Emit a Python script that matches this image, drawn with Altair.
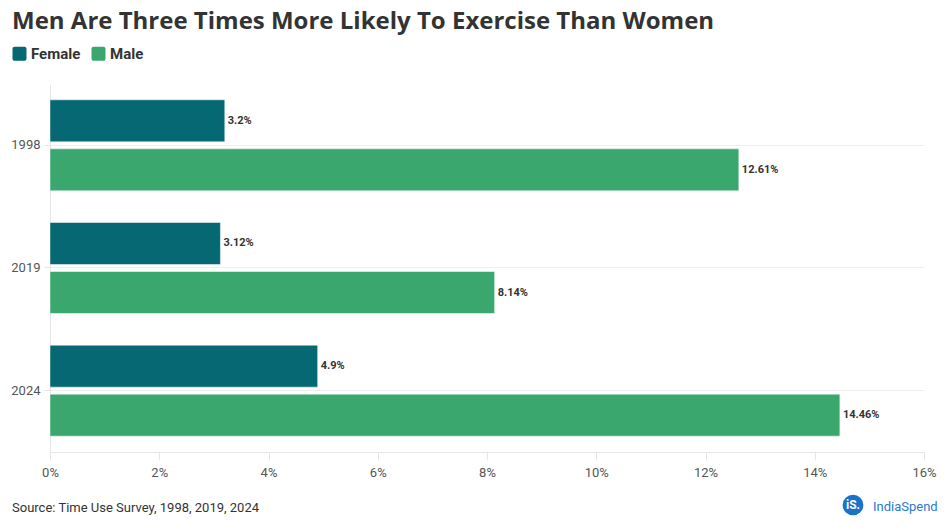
import altair as alt
import pandas as pd

years = ["1998", "1998", "2019", "2019", "2024", "2024"]
sexes = ["Female", "Male", "Female", "Male", "Female", "Male"]
values = [3.2, 12.61, 3.12, 8.14, 4.9, 14.46]
labels = ["3.2%", "12.61%", "3.12%", "8.14%", "4.9%", "14.46%"]
x_ticks = [0, 2, 4, 6, 8, 10, 12, 14, 16]

title_text = "Men Are Three Times More Likely To Exercise Than Women"
source_text = "Source: Time Use Survey, 1998, 2019, 2024"

df = pd.DataFrame({"year": years, "sex": sexes, "value": values, "label": labels})

FONT = "Roboto"
colors = ["#056873", "#3aa86e"]
rounded = ("M -0.7 -1 H 0.7 A 0.3 0.3 0 0 1 1 -0.7 V 0.7 A 0.3 0.3 0 0 1 0.7 1 "
           "H -0.7 A 0.3 0.3 0 0 1 -1 0.7 V -0.7 A 0.3 0.3 0 0 1 -0.7 -1 Z")

base = alt.Chart(df)

y_enc = alt.Y("year:N", sort=["1998", "2019", "2024"],
              scale=alt.Scale(paddingInner=0.258, paddingOuter=0.129),
              axis=alt.Axis(title=None, labelFont=FONT, labelFontSize=13, labelColor="#555",
                            tickSize=6, tickColor="#e6e6e6", domainColor="#e6e6e6",
                            grid=True, gridColor="#eeeeee", labelPadding=4))
yoff = alt.YOffset("sex:N", sort=["Female", "Male"], scale=alt.Scale(paddingInner=0.143, paddingOuter=0))

bars = base.mark_bar(stroke="white", strokeWidth=0.5).encode(
    x=alt.X("value:Q", scale=alt.Scale(domain=[0, 16], nice=False),
            axis=alt.Axis(title=None, values=x_ticks, labelExpr="datum.value + '%'",
                          labelFont=FONT, labelFontSize=13, labelColor="#555", labelFlush=False,
                          tickSize=8, tickColor="#e6e6e6", domainColor="#e6e6e6",
                          grid=False, labelPadding=6)),
    y=y_enc,
    yOffset=yoff,
    color=alt.Color("sex:N", sort=["Female", "Male"],
                    scale=alt.Scale(domain=["Female", "Male"], range=colors),
                    legend=alt.Legend(title=None, orient="none", legendX=-38, legendY=-38,
                                      direction="horizontal", symbolType=rounded,
                                      symbolSize=196, symbolStrokeWidth=0,
                                      labelFont=FONT, labelFontSize=15, labelFontWeight="bold",
                                      labelColor="#333", columnPadding=10, labelOffset=4)),
)

text = base.mark_text(align="left", baseline="middle", dx=3, font=FONT, fontSize=11,
                      fontWeight="bold", color="#333").encode(
    x="value:Q",
    y=alt.Y("year:N", sort=["1998", "2019", "2024"]),
    yOffset=yoff,
    text="label:N",
)

title = alt.Chart(pd.DataFrame({"t": [title_text]})).mark_text(
    align="left", baseline="alphabetic", font="Open Sans", fontSize=24, fontWeight="bold", color="#333"
).encode(x=alt.value(-38), y=alt.value(-55), text="t:N")

source = alt.Chart(pd.DataFrame({"t": [source_text]})).mark_text(
    align="left", baseline="alphabetic", font=FONT, fontSize=13, color="#333"
).encode(x=alt.value(-38), y=alt.value(428), text="t:N")

logo_circle = alt.Chart(pd.DataFrame({"t": ["iS."]})).mark_point(
    filled=True, shape="circle", size=430, color="#1a73c8", opacity=1
).encode(x=alt.value(803), y=alt.value(421))

logo_is = alt.Chart(pd.DataFrame({"t": ["iS."]})).mark_text(
    align="center", baseline="middle", font=FONT, fontSize=12, fontWeight="bold", color="white"
).encode(x=alt.value(803), y=alt.value(421), text="t:N")

logo_name = alt.Chart(pd.DataFrame({"t": ["IndiaSpend"]})).mark_text(
    align="left", baseline="middle", font=FONT, fontSize=13, color="#2a7bd0"
).encode(x=alt.value(823), y=alt.value(423), text="t:N")

chart = alt.layer(bars, text, title, source, logo_circle, logo_is, logo_name).properties(
    width=874, height=368,
    background="white",
    autosize=alt.AutoSizeParams(type="none"),
    padding={"left": 42, "top": 76, "right": 17, "bottom": 80},
).configure_view(stroke=None)

chart.save("out.html", embed_options={"renderer": "svg", "actions": False})
